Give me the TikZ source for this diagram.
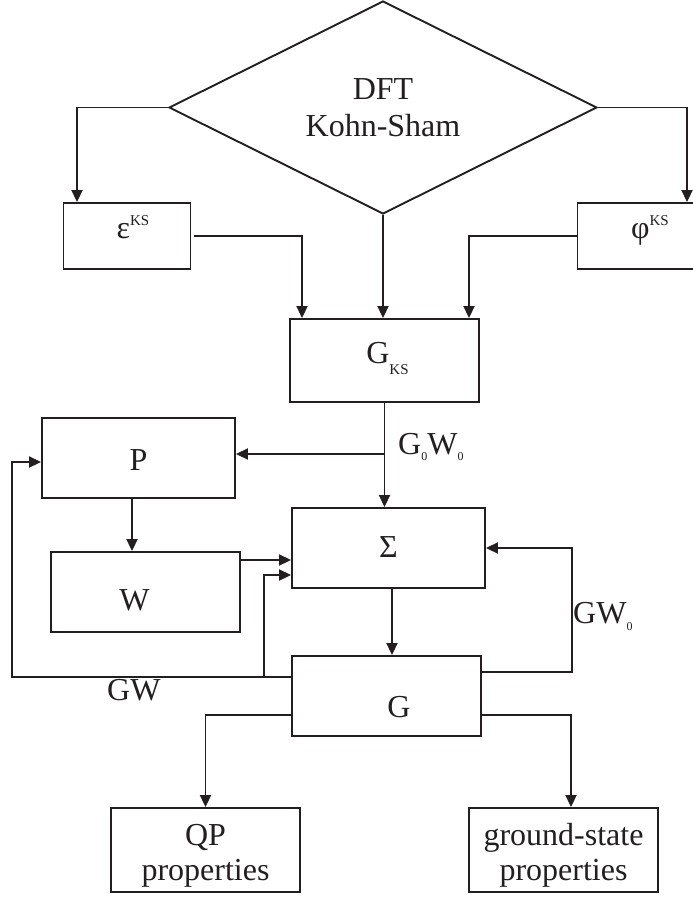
\documentclass[tikz,border=0pt]{standalone}
\usepackage{fontspec}
\setmainfont{Liberation Serif}
\usetikzlibrary{shapes.geometric,arrows.meta,calc}
\definecolor{ink}{HTML}{231F20}
\newcommand\mysub[2]{\raisebox{-#1}{\fontsize{#2}{#2}\selectfont 0}}
\newcommand\myks[2]{\raisebox{#1}{\fontsize{15}{15}\selectfont #2}}
\newcommand\place[2]{\raisebox{-#1}[0pt][0pt]{#2}}
\begin{document}
\begin{tikzpicture}[x=1pt,y=-1pt,
  box/.style={draw=ink, line width=1.9pt, rectangle, inner sep=0pt,
    font=\fontsize{32}{35}\selectfont, text=ink},
  arr/.style={draw=ink, line width=1.9pt, -{Triangle[length=12pt,width=11pt]}},
  lbl/.style={inner sep=0pt, font=\fontsize{32}{38}\selectfont, text=ink}]
\useasboundingbox (0,0) rectangle (693,897);

\node[draw=ink, line width=1.9pt, diamond, minimum width=428pt, minimum height=210pt,
  inner sep=0pt, align=center, font=\fontsize{32}{37}\selectfont, text=ink] (dft) at (383,107.5) {DFT\\Kohn-Sham};

\node[box, minimum width=127pt, minimum height=66pt] (eps) at (127,236)
  {\hspace*{12pt}\place{2pt}{ε\myks{13pt}{KS}}};
\node[box, minimum width=145pt, minimum height=66pt] (phi) at (650,236)
  {\place{2pt}{φ\myks{13pt}{KS}}};
\node[box, minimum width=189pt, minimum height=83pt] (gks) at (384.5,360.5)
  {\hspace*{6pt}\place{2.5pt}{G\myks{-11pt}{KS}}};
\node[box, minimum width=193pt, minimum height=80pt] (P) at (138.5,458)
  {\place{12pt}{P}};
\node[box, minimum width=189pt, minimum height=80pt] (W) at (145.5,592)
  {\place{18pt}{W}\hspace*{22pt}};
\node[box, minimum width=193pt, minimum height=80pt] (sig) at (388.5,548)
  {\place{9pt}{Σ}};
\node[box, minimum width=189pt, minimum height=80pt] (G) at (386.5,696)
  {\hspace*{25pt}\place{21pt}{G}};
\node[box, minimum width=189pt, minimum height=84pt, align=center] (qp) at (205.5,850)
  {\rule{0pt}{33pt}QP\\properties};
\node[box, minimum width=189pt, minimum height=84pt, align=center] (gs) at (563.5,850)
  {\rule{0pt}{33pt}ground-state\\properties};

% DFT outputs
\draw[arr] (dft.west) -| ([xshift=-50pt]eps.north);
\draw[arr] (dft.east) -| ([xshift=37pt]phi.north);
\draw[arr] (dft.south) -- (dft.south |- gks.north);
\draw[arr] ([xshift=3pt]eps.east) -| ([xshift=-82.5pt]gks.north);
\draw[arr] (phi.west) -| ([xshift=84.5pt]gks.north);

% G_KS -> Sigma, P
\draw[arr] (gks.south) -- (gks.south |- sig.north);
\coordinate (pin) at ([yshift=4pt]P.east);
\draw[arr] (pin -| gks.south) -- (pin);
\node[lbl, anchor=base west] (g0w0) at (398,454) {G\mysub{6pt}{12}W\mysub{6pt}{12}};

% P -> W -> Sigma
\draw[arr] ([xshift=-6.5pt]P.south) -- ([xshift=-6.5pt]P.south |- W.north);
\coordinate (wout) at ([yshift=32pt]W.east);
\draw[arr] (wout) -- (wout -| sig.west);

% Sigma -> G
\coordinate (sout) at ([xshift=3.5pt]sig.south);
\draw[arr] (sout) -- (sout |- G.north);

% GW loop
\draw[arr] ([yshift=19pt]G.west) -- ++(-279.5,0) |- ([yshift=-4pt]P.west);
\draw[arr] ([xshift=-27pt,yshift=19pt]G.west) |- ([yshift=-27pt]sig.west);
\node[lbl, anchor=base west] (gw) at (107,700) {GW};

% GW0 loop
\draw[arr] ([yshift=24pt]G.east) -- ++(90,0) |- (sig.east);
\node[lbl, anchor=base west] (gw0) at (573,623) {GW\mysub{7pt}{12}};

% outputs
\draw[arr] ([yshift=-19pt]G.west) -| (qp.north);
\draw[arr] ([yshift=-19pt]G.east) -| ([xshift=7.5pt]gs.north);
\end{tikzpicture}
\end{document}
